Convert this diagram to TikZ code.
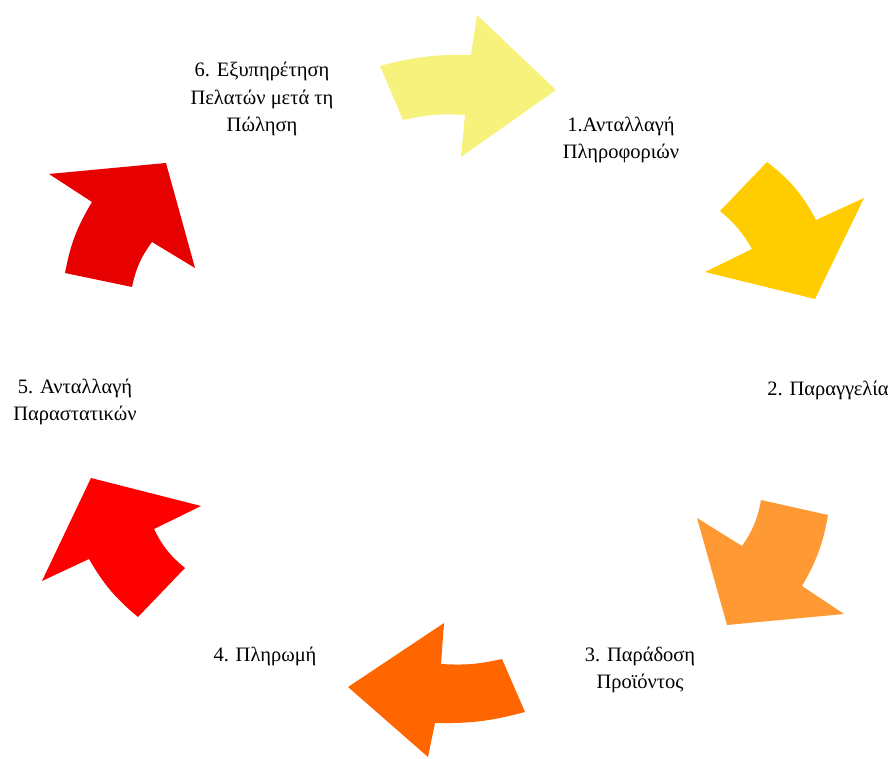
\documentclass[tikz,border=0pt]{standalone}
\usepackage{fontspec}
\setmainfont{Liberation Serif}
\usepackage{tikz}
\usetikzlibrary{positioning}
\definecolor{cycyellow}{RGB}{246,242,124}
\definecolor{cycgold}{RGB}{255,204,0}
\definecolor{cyclightorange}{RGB}{255,153,51}
\definecolor{cycorange}{RGB}{255,102,0}
\definecolor{cycred}{RGB}{255,0,0}
\definecolor{cycdarkred}{RGB}{230,0,0}

\begin{document}
\begin{tikzpicture}[x=1pt,y=1pt,
    lbl/.style={align=center, inner sep=0pt, font=\fontsize{20.5}{27.5}\selectfont}]
    \useasboundingbox (0,0) rectangle (896,759);
    % arrows
    \fill[cycyellow] (380,693) to[bend left=8] (471,704) -- (477,744) -- (556,669) -- (461,602) -- (465,644) to[bend right=8] (403,639) -- cycle;
    \fill[cycgold] (767,597) to[bend left=12] (816,539) -- (864,561) -- (815,460) -- (705,487) -- (752,510) to[bend right=10] (720,548) -- cycle;
    \fill[cyclightorange] (761,259) -- (828,244) to[bend left=10] (802,173) -- (844,145) -- (727,134) -- (697,241) -- (742,213) to[bend right=12] (761,259) -- cycle;
    \fill[cycorange] (502,100) -- (525,47) to[bend left=8] (435,36) -- (428,2) -- (348,72) -- (444,136) -- (441,95) to[bend right=8] (502,100) -- cycle;
    \fill[cycred] (138,142) -- (185,191) to[bend left=12] (154,230) -- (201,253) -- (91,281) -- (42,178) -- (89,200) to[bend right=10] (138,142) -- cycle;
    \fill[cycdarkred] (65,486) -- (132,472) to[bend left=12] (152,517) -- (195,491) -- (166,596) -- (49,585) -- (92,557) to[bend right=10] (65,486) -- cycle;
    % labels
    \node[lbl] (info) at (621,619) {1.Ανταλλαγή\\Πληροφοριών};
    \node[lbl] (order) at (828,369) {2. Παραγγελία};
    \node[lbl] (delivery) at (640,89) {3. Παράδοση\\Προϊόντος};
    \node[lbl] (payment) at (265,103) {4. Πληρωμή};
    \node[lbl] (invoices) at (75,357) {5. Ανταλλαγή\\Παραστατικών};
    \node[lbl] (service) at (262,660) {6. Εξυπηρέτηση\\Πελατών μετά τη\\Πώληση};
\end{tikzpicture}
\end{document}
